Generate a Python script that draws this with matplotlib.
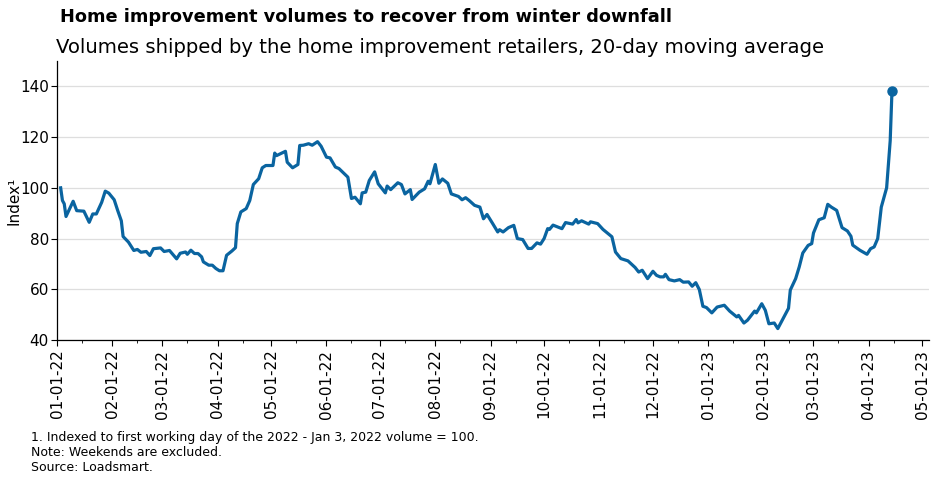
import numpy as np
import pandas as pd
import matplotlib
matplotlib.use("Agg")
import matplotlib.pyplot as plt
import matplotlib.dates as mdates

# 20-day moving average of volumes, index (Jan 3, 2022 = 100)
dates = [
    "2022-01-03", "2022-01-04", "2022-01-05", "2022-01-06", "2022-01-08", "2022-01-10",
    "2022-01-12", "2022-01-16", "2022-01-19", "2022-01-21", "2022-01-23", "2022-01-26",
    "2022-01-28", "2022-01-30", "2022-02-02", "2022-02-04", "2022-02-06", "2022-02-07",
    "2022-02-10", "2022-02-13", "2022-02-15", "2022-02-17", "2022-02-20", "2022-02-22",
    "2022-02-24", "2022-02-28", "2022-03-02", "2022-03-05", "2022-03-09", "2022-03-11",
    "2022-03-14", "2022-03-15", "2022-03-17", "2022-03-19", "2022-03-21", "2022-03-23",
    "2022-03-24", "2022-03-27", "2022-03-29", "2022-03-31", "2022-04-02", "2022-04-04",
    "2022-04-06", "2022-04-09", "2022-04-11", "2022-04-12", "2022-04-14", "2022-04-17",
    "2022-04-19", "2022-04-21", "2022-04-24", "2022-04-26", "2022-04-28", "2022-05-02",
    "2022-05-03", "2022-05-04", "2022-05-09", "2022-05-10", "2022-05-13", "2022-05-16",
    "2022-05-17", "2022-05-19", "2022-05-22", "2022-05-24", "2022-05-27", "2022-05-29",
    "2022-06-01", "2022-06-03", "2022-06-06", "2022-06-08", "2022-06-13", "2022-06-15",
    "2022-06-17", "2022-06-20", "2022-06-21", "2022-06-23", "2022-06-25", "2022-06-28",
    "2022-06-30", "2022-07-04", "2022-07-05", "2022-07-07", "2022-07-11", "2022-07-13",
    "2022-07-15", "2022-07-18", "2022-07-19", "2022-07-23", "2022-07-26", "2022-07-28",
    "2022-07-29", "2022-08-01", "2022-08-03", "2022-08-05", "2022-08-08", "2022-08-10",
    "2022-08-14", "2022-08-16", "2022-08-18", "2022-08-20", "2022-08-23", "2022-08-26",
    "2022-08-28", "2022-08-30", "2022-09-02", "2022-09-05", "2022-09-06", "2022-09-08",
    "2022-09-11", "2022-09-14", "2022-09-16", "2022-09-19", "2022-09-22", "2022-09-24",
    "2022-09-27", "2022-09-29", "2022-10-01", "2022-10-03", "2022-10-04", "2022-10-06",
    "2022-10-11", "2022-10-13", "2022-10-17", "2022-10-19", "2022-10-20", "2022-10-22",
    "2022-10-26", "2022-10-27", "2022-10-31", "2022-11-03", "2022-11-08", "2022-11-10",
    "2022-11-13", "2022-11-17", "2022-11-21", "2022-11-23", "2022-11-25", "2022-11-28",
    "2022-12-01", "2022-12-03", "2022-12-05", "2022-12-07", "2022-12-08", "2022-12-10",
    "2022-12-13", "2022-12-16", "2022-12-18", "2022-12-21", "2022-12-23", "2022-12-25",
    "2022-12-27", "2022-12-29", "2022-12-31", "2023-01-03", "2023-01-06", "2023-01-10",
    "2023-01-13", "2023-01-17", "2023-01-18", "2023-01-21", "2023-01-23", "2023-01-27",
    "2023-01-28", "2023-01-31", "2023-02-02", "2023-02-04", "2023-02-07", "2023-02-09",
    "2023-02-12", "2023-02-15", "2023-02-16", "2023-02-19", "2023-02-21", "2023-02-23",
    "2023-02-26", "2023-02-28", "2023-03-01", "2023-03-04", "2023-03-07", "2023-03-09",
    "2023-03-11", "2023-03-14", "2023-03-17", "2023-03-20", "2023-03-22", "2023-03-23",
    "2023-03-27", "2023-03-31", "2023-04-02", "2023-04-04", "2023-04-06", "2023-04-08",
    "2023-04-11", "2023-04-13", "2023-04-14",
]
index_values = [
    100.0, 95.0, 93.7, 88.7, 91.7, 94.7,
    91.0, 90.8, 86.4, 89.7, 89.7, 94.3,
    98.7, 97.9, 95.3, 91.0, 87.0, 80.8,
    78.6, 75.3, 75.7, 74.6, 74.9, 73.3,
    76.0, 76.3, 74.9, 75.3, 72.0, 74.2,
    74.7, 73.8, 75.4, 74.1, 74.1, 72.8,
    70.8, 69.5, 69.5, 68.2, 67.3, 67.3,
    73.4, 75.1, 76.4, 85.9, 90.5, 91.8,
    95.0, 101.3, 103.6, 107.9, 108.8, 108.8,
    113.7, 112.7, 114.4, 110.1, 107.9, 109.2,
    116.7, 116.8, 117.4, 116.8, 118.2, 116.4,
    112.1, 111.8, 108.2, 107.6, 104.2, 95.8,
    96.3, 93.7, 98.0, 98.3, 102.9, 106.3,
    101.6, 98.0, 100.7, 99.3, 102.0, 101.3,
    97.6, 99.3, 95.4, 98.3, 99.6, 102.6,
    101.6, 109.2, 101.8, 103.5, 101.8, 97.6,
    96.6, 95.3, 96.1, 95.0, 93.1, 92.4,
    87.8, 89.5, 86.1, 82.6, 83.5, 82.6,
    84.3, 85.2, 80.0, 79.6, 76.1, 76.1,
    78.3, 77.8, 80.0, 83.9, 83.6, 85.3,
    83.9, 86.3, 85.7, 87.5, 86.2, 87.0,
    85.7, 86.6, 85.9, 83.6, 80.7, 74.7,
    72.1, 71.2, 68.6, 66.8, 67.5, 64.2,
    67.1, 65.5, 64.9, 64.9, 65.9, 63.8,
    63.3, 63.8, 62.8, 62.9, 61.2, 62.6,
    59.9, 53.3, 52.8, 50.7, 53.0, 53.7,
    51.4, 49.1, 49.7, 46.7, 47.8, 51.4,
    50.7, 54.3, 51.7, 46.4, 46.7, 44.5,
    48.5, 52.5, 59.7, 64.2, 68.8, 74.3,
    77.3, 78.0, 82.2, 87.4, 88.2, 93.5,
    92.4, 91.1, 84.3, 83.0, 80.9, 77.4,
    75.4, 73.8, 76.0, 76.7, 80.0, 92.4,
    100.0, 118.6, 138.3,
]
y_ticks = [40, 60, 80, 100, 120, 140]

title = "Home improvement volumes to recover from winter downfall"
subtitle = "Volumes shipped by the home improvement retailers, 20-day moving average"
notes = [
    "1. Indexed to first working day of the 2022 - Jan 3, 2022 volume = 100.",
    "Note: Weekends are excluded.",
    "Source: Loadsmart.",
]

line_color = "#0a64a0"
x = pd.to_datetime(dates)

fig = plt.figure(figsize=(9.36, 4.82), dpi=100)
ax = fig.add_axes([0.061, 0.2946, 0.932, 0.5788])

ax.plot(x, index_values, color=line_color, linewidth=2.3, solid_joinstyle="round")
ax.plot(x[-1:], index_values[-1:], "o", color=line_color, markersize=6.5)

ax.set_ylim(40, 150)
ax.set_yticks(y_ticks)
ax.set_xlim(pd.Timestamp("2022-01-01"), pd.Timestamp("2023-05-05"))
ax.xaxis.set_major_locator(mdates.MonthLocator(bymonthday=1))
ax.xaxis.set_minor_locator(mdates.MonthLocator(bymonthday=15))
ax.xaxis.set_major_formatter(mdates.DateFormatter("%m-%d-%y"))
plt.setp(ax.get_xticklabels(), rotation=90, ha="center")

ax.grid(axis="y", color="#dedede", linewidth=0.9)
ax.set_axisbelow(True)
for side in ["top", "right"]:
    ax.spines[side].set_visible(False)
ax.spines["left"].set_linewidth(0.9)
ax.spines["bottom"].set_linewidth(0.9)
ax.tick_params(axis="y", labelsize=11, length=4, width=0.8, pad=2)
ax.tick_params(axis="x", which="major", labelsize=11, length=4, width=0.8, pad=3)
ax.tick_params(axis="x", which="minor", length=2.5, width=0.6)
ax.set_ylabel("Index¹", fontsize=11)
ax.yaxis.set_label_coords(-0.041, 0.5)

fig.text(0.064, 0.965, title, fontsize=12.8, fontweight="bold", va="center")
fig.text(0.06, 0.902, subtitle, fontsize=14.1, va="center")
for i, note in enumerate(notes):
    fig.text(0.033, 0.093 - i * 0.031, note, fontsize=9, va="center")

fig.savefig("out.png", dpi=100)
